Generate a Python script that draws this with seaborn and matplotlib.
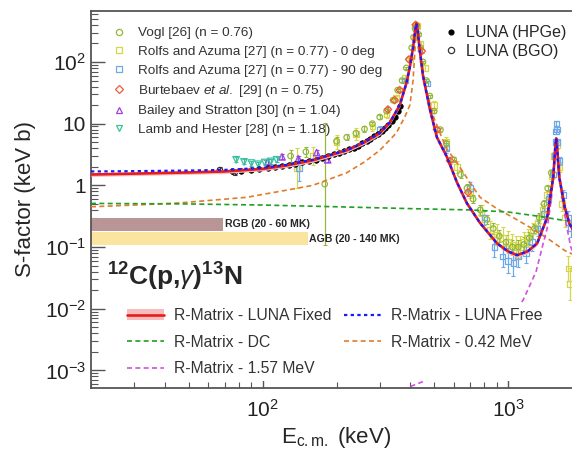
import numpy as np
import matplotlib
matplotlib.use("Agg")
import matplotlib.pyplot as plt
from matplotlib.lines import Line2D
from matplotlib.patches import Patch
from matplotlib.ticker import NullFormatter
import seaborn as sns

# R-matrix curves, E_cm (keV) vs S (keV b)
E_FIX = [20, 30, 50, 70, 100, 125, 160, 220, 260, 300, 330, 362, 385, 398, 410, 417, 423,
         428, 435, 450, 481, 513, 563, 620, 680, 769, 901, 1000, 1088, 1200, 1313, 1442,
         1527, 1555, 1570, 1585, 1615, 1700, 1774, 1900, 2000]
S_FIX = [1.50, 1.55, 1.62, 1.68, 1.85, 2.1, 2.55, 3.7, 5.0, 7.0, 10.5, 20, 45, 83, 170, 290, 420,
         330, 180, 60, 16.6, 6.0, 2.9, 1.1, 0.51, 0.245, 0.115, 0.085, 0.074, 0.085, 0.115, 0.30,
         1.36, 4.0, 5.8, 4.0, 1.36, 0.45, 0.245, 0.15, 0.12]
S_FREE = [1.68, 1.70, 1.74, 1.78, 1.92, 2.15, 2.6, 3.7, 5.0, 7.0, 10.5, 20, 45, 83, 170, 290, 420,
          330, 180, 60, 16.6, 6.0, 2.9, 1.1, 0.51, 0.245, 0.115, 0.085, 0.074, 0.085, 0.115, 0.30,
          1.36, 4.0, 5.8, 4.0, 1.36, 0.45, 0.245, 0.15, 0.12]

E_DC = [20, 50, 100, 200, 400, 700, 1000, 1300, 1600, 2000]
S_DC = [0.51, 0.50, 0.48, 0.45, 0.42, 0.40, 0.37, 0.32, 0.28, 0.24]

E_042 = [20, 30, 46, 86, 128, 160, 220, 260, 300, 350, 380, 398, 410, 417, 423, 430, 440, 460,
         500, 560, 620, 700, 769, 900, 1050, 1250, 1442, 1700, 2000]
S_042 = [0.45, 0.48, 0.52, 0.64, 0.85, 1.0, 1.6, 2.4, 3.7, 7.0, 13, 20, 50, 150, 380, 250, 110, 40,
         12, 4.0, 2.3, 1.1, 0.64, 0.42, 0.30, 0.20, 0.14, 0.088, 0.065]

E_157 = [350, 400, 467, 600, 800, 1000, 1150, 1300, 1390, 1442, 1500, 1540, 1570, 1600, 1650,
         1720, 1800, 2000]
S_157 = [4.0e-4, 5.5e-4, 7e-4, 1.2e-3, 2.8e-3, 7e-3, 0.0137, 0.04, 0.115, 0.2, 0.6, 2.0, 5.5,
         2.5, 0.8, 0.25, 0.1, 0.04]

# measurements: energy, S-factor, multiplicative error factor
E_VOGL = [130, 150, 179, 200, 220, 240, 260, 280, 300, 320, 340, 355, 370, 385, 395, 405, 412,
          418, 422, 426, 432, 440, 450, 465, 480, 500, 530, 560, 600, 640, 680, 720, 770, 820,
          870, 920, 980, 1040, 1100, 1160, 1220, 1280, 1340, 1400, 1450, 1500]
S_VOGL = [3.0, 3.5, 1.05, 5.2, 6.0, 7.0, 8.2, 10, 12.8, 16, 24, 35, 50, 80, 110, 170, 250,
          350, 400, 380, 280, 170, 100, 50, 28, 16, 8, 4.8, 2.6, 1.5, 0.9, 0.6, 0.4, 0.28,
          0.2, 0.15, 0.12, 0.1, 0.1, 0.11, 0.14, 0.2, 0.3, 0.5, 0.9, 1.6]
F_VOGL = [1.25, 1.2, 9.6, 1.15, 1.12, 1.1, 1.1, 1.08, 1.08, 1.08, 1.06, 1.06, 1.05, 1.05, 1.05,
          1.05, 1.05, 1.05, 1.05, 1.05, 1.05, 1.05, 1.05, 1.05, 1.06, 1.06, 1.08, 1.1, 1.1, 1.12,
          1.15, 1.15, 1.2, 1.2, 1.25, 1.25, 1.3, 1.3, 1.3, 1.3, 1.25, 1.2, 1.2, 1.15, 1.1, 1.1]

E_R0 = [138, 160, 200, 240, 280, 320, 350, 380, 400, 415, 425, 440, 460, 500, 560, 620, 700,
        780, 845, 900, 955, 1000, 1040, 1080, 1120, 1160, 1200, 1260, 1320, 1380, 1440, 1500,
        1540, 1580, 1620, 1660, 1700, 1760, 1790]
S_R0 = [1.9, 3.0, 5.0, 6.8, 9, 14, 26, 55, 110, 250, 380, 200, 80, 20, 5, 2, 0.8, 0.35, 0.19,
        0.16, 0.14, 0.12, 0.11, 0.1, 0.1, 0.12, 0.14, 0.18, 0.25, 0.4, 0.7, 1.4, 3.0, 4.5, 2.0,
        0.5, 0.3, 0.045, 0.025]
F_R0 = [2.1, 1.4, 1.3, 1.25, 1.2, 1.15, 1.1, 1.1, 1.1, 1.1, 1.1, 1.1, 1.1, 1.15, 1.2, 1.25,
        1.3, 1.35, 1.4, 1.5, 1.5, 1.5, 1.5, 1.5, 1.5, 1.45, 1.4, 1.35, 1.3, 1.25, 1.2, 1.2,
        1.15, 1.15, 1.2, 1.3, 1.4, 1.6, 1.8]

E_R90 = [141, 300, 380, 420, 470, 560, 700, 800, 880, 950, 1000, 1050, 1100, 1180, 1250, 1320,
         1400, 1460, 1520, 1545, 1558, 1565, 1572, 1580, 1592, 1620, 1680, 1750, 1800]
S_R90 = [1.9, 8, 50, 350, 45, 4, 0.9, 0.3, 0.1, 0.07, 0.06, 0.055, 0.07, 0.08, 0.12, 0.2,
         0.35, 0.6, 1.5, 3.0, 5.0, 7.5, 10, 8, 5, 2.5, 0.7, 0.3, 0.2]
F_R90 = [1.6, 1.15, 1.1, 1.1, 1.1, 1.2, 1.25, 1.3, 1.45, 1.5, 1.6, 1.6, 1.5, 1.45, 1.4, 1.3,
         1.25, 1.2, 1.15, 1.1, 1.1, 1.1, 1.1, 1.1, 1.1, 1.15, 1.2, 1.3, 1.35]

E_BURT = [324, 345, 362, 395, 420, 445, 513, 580, 687]
S_BURT = [17, 24, 35, 110, 400, 150, 8, 2.5, 0.77]
F_BURT = [1.08, 1.08, 1.08, 1.08, 1.08, 1.08, 1.1, 1.12, 1.15]

E_BAIL = [105, 120, 140, 166, 184]
S_BAIL = [2.4, 2.9, 2.7, 3.4, 2.6]
F_BAIL = [1.1, 1.1, 1.1, 1.1, 1.1]

E_LAMB = [78, 84, 90, 96, 102, 108, 114]
S_LAMB = [2.6, 2.4, 2.3, 2.2, 2.35, 2.45, 2.6]
F_LAMB = [1.1, 1.1, 1.1, 1.1, 1.1, 1.1, 1.1]

E_HPGE = [75, 82, 90, 97, 105, 112, 120, 128, 136, 145, 155, 165, 175, 185, 195, 205, 215,
          225, 235, 245, 255, 265, 275, 285, 295, 305, 315, 325, 335, 345, 355, 362]
S_HPGE = [1.70, 1.72, 1.78, 1.82, 1.9, 1.98, 2.05, 2.15, 2.25, 2.35, 2.48, 2.62, 2.8, 3.0, 3.2,
          3.4, 3.6, 3.85, 4.1, 4.4, 4.8, 5.2, 5.7, 6.2, 6.8, 7.5, 8.4, 9.5, 11, 13, 16, 19]

E_BGO = [67, 77]
S_BGO = [1.76, 1.62]
F_BGO = [1.12, 1.1]

# stellar Gamow windows
RGB_E = [20, 69]
RGB_S = [0.185, 0.30]
AGB_E = [20, 153]
AGB_S = [0.107, 0.175]

X_TICKS = [100, 1000]
X_TICK_LABELS = ["$10^{2}$", "$10^{3}$"]
Y_TICKS = [1e-3, 1e-2, 1e-1, 1, 10, 100]
Y_TICK_LABELS = ["$10^{-3}$", "$10^{-2}$", "$10^{-1}$", "1", "10", "$10^{2}$"]

sns.set_theme(style="ticks")
plt.rcParams["font.family"] = ["Liberation Sans", "DejaVu Sans"]
plt.rcParams["mathtext.fontset"] = "custom"
plt.rcParams["mathtext.rm"] = "Liberation Sans"
plt.rcParams["mathtext.it"] = "Liberation Sans:italic"
plt.rcParams["mathtext.bf"] = "Liberation Sans:bold"

C_VOGL = "#93b83c"
C_R0 = "#d6d64a"
C_R90 = "#6ea8e8"
C_BURT = "#ee5a3a"
C_BAIL = "#9a40e6"
C_LAMB = "#38c0a0"

fig = plt.figure(figsize=(5.72, 4.51), dpi=100)
ax = fig.add_axes([0.1591, 0.1397, 0.8584, 0.8359])
ax.set_xscale("log")
ax.set_yscale("log")


def draw_set(e, s, f, color, marker, size, filled=False):
    e = np.asarray(e, float)
    s = np.asarray(s, float)
    f = np.asarray(f, float)
    ax.errorbar(e, s, yerr=[s - s / f, s * f - s], fmt="none", ecolor=color,
                elinewidth=0.9, capsize=1.5, capthick=0.8, zorder=2)
    sns.scatterplot(x=e, y=s, ax=ax, marker=marker, s=size,
                    color=color if filled else "none", edgecolor=color,
                    linewidth=0.9, zorder=2.5)


# Gamow window bars
ax.fill_between(RGB_E, RGB_S[0], RGB_S[1], color="#b99595", lw=0, zorder=1)
ax.fill_between(AGB_E, AGB_S[0], AGB_S[1], color="#fbe3a0", lw=0, zorder=1)
ax.text(RGB_E[1] * 1.02, np.sqrt(RGB_S[0] * RGB_S[1]), "RGB (20 - 60 MK)",
        fontsize=7.6, fontweight="bold", va="center", ha="left", zorder=5)
ax.text(AGB_E[1] * 1.01, np.sqrt(AGB_S[0] * AGB_S[1]), "AGB (20 - 140 MK)",
        fontsize=7.6, fontweight="bold", va="center", ha="left", zorder=5)

draw_set(E_R0, S_R0, F_R0, C_R0, "s", 16)
draw_set(E_R90, S_R90, F_R90, C_R90, "s", 16)
draw_set(E_VOGL, S_VOGL, F_VOGL, C_VOGL, "o", 16)
draw_set(E_BURT, S_BURT, F_BURT, C_BURT, "D", 14)
draw_set(E_BAIL, S_BAIL, F_BAIL, C_BAIL, "^", 22)
draw_set(E_LAMB, S_LAMB, F_LAMB, C_LAMB, "v", 22)
draw_set(E_BGO, S_BGO, F_BGO, "#333333", "o", 16)
sns.scatterplot(x=E_HPGE, y=S_HPGE, ax=ax, marker="o", s=16, color="black",
                edgecolor="black", linewidth=0.5, zorder=2.6)

# curves
s_fix = np.asarray(S_FIX)
ax.fill_between(E_FIX, s_fix * 0.93, s_fix * 1.07, color="#f8bcbc", lw=0, zorder=3)
sns.lineplot(x=E_042, y=S_042, ax=ax, color="#e07b2a", lw=1.2, linestyle=(0, (3, 2)),
             estimator=None, sort=False, zorder=3)
sns.lineplot(x=E_DC, y=S_DC, ax=ax, color="#20a020", lw=1.2, linestyle=(0, (3, 2)),
             estimator=None, sort=False, zorder=3)
sns.lineplot(x=E_157, y=S_157, ax=ax, color="#d050e0", lw=1.2, linestyle=(0, (3, 2)),
             estimator=None, sort=False, zorder=3)
sns.lineplot(x=E_FIX, y=S_FIX, ax=ax, color="#e81c1c", lw=1.9,
             estimator=None, sort=False, zorder=3.5)
sns.lineplot(x=E_FIX, y=S_FREE, ax=ax, color="#1a1aff", lw=1.6, linestyle=(0, (1.5, 1.5)),
             estimator=None, sort=False, zorder=3.6)

ax.set_xlim(20, 2000)
ax.set_ylim(5.2e-4, 670)
ax.set_xticks(X_TICKS, X_TICK_LABELS)
ax.set_yticks(Y_TICKS, Y_TICK_LABELS)
ax.xaxis.set_minor_formatter(NullFormatter())
ax.yaxis.set_minor_formatter(NullFormatter())
ax.tick_params(which="both", direction="in", color="#555555", labelsize=15,
               labelcolor="#222222", top=False, right=False)
ax.tick_params(axis="y", which="major", length=10, width=1)
ax.tick_params(axis="y", which="minor", length=5, width=0.8)
ax.tick_params(axis="x", which="major", length=6, width=1, pad=8)
ax.tick_params(axis="x", which="minor", length=4, width=0.8)
for side in ["left", "bottom", "top"]:
    ax.spines[side].set_color("#555555")
    ax.spines[side].set_linewidth(1.3)
ax.spines["right"].set_visible(False)

ax.set_ylabel("S-factor (keV b)", fontsize=16, labelpad=6)
ax.set_xlabel(r"E$_{\rm c.m.}$ (keV)", fontsize=16, labelpad=3)

ax.text(0.033, 0.294, r"$^{\mathbf{12}}$C(p,$\gamma$)$^{\mathbf{13}}$N", transform=ax.transAxes,
        fontsize=19, fontweight="bold", ha="left", va="center", zorder=6)

# legends
def mk(marker, color, ms=4.5, filled=False):
    return Line2D([], [], ls="none", marker=marker, ms=ms, mew=0.9, mec=color,
                  mfc=color if filled else "none")


leg1 = ax.legend(
    [mk("o", C_VOGL), mk("s", C_R0), mk("s", C_R90), mk("D", C_BURT, 4),
     mk("^", C_BAIL, 5), mk("v", C_LAMB, 5)],
    ["Vogl [26] (n = 0.76)", "Rolfs and Azuma [27] (n = 0.77) - 0 deg",
     "Rolfs and Azuma [27] (n = 0.77) - 90 deg", r"Burtebaev $\it{et\ al.}$ [29] (n = 0.75)",
     "Bailey and Stratton [30] (n = 1.04)", "Lamb and Hester [28] (n = 1.18)"],
    loc="upper left", bbox_to_anchor=(0.043, 0.958), frameon=False, fontsize=9.7,
    handlelength=1.0, handletextpad=0.9, labelspacing=0.46, borderpad=0, borderaxespad=0)
for t in leg1.get_texts():
    t.set_color("#333333")
ax.add_artist(leg1)

leg2 = ax.legend(
    [mk("o", "black", 3.5, True), mk("o", "#333333", 4.5)],
    ["LUNA (HPGe)", "LUNA (BGO)"],
    loc="upper left", bbox_to_anchor=(0.721, 0.962), frameon=False, fontsize=11.5,
    handlelength=0.8, handletextpad=0.5, labelspacing=0.22, borderpad=0, borderaxespad=0)
ax.add_artist(leg2)

h_fix = (Patch(facecolor="#f8bcbc", edgecolor="none"), Line2D([], [], color="#e81c1c", lw=1.9))
h_dc = Line2D([], [], color="#20a020", lw=1.2, ls=(0, (3, 2)))
h_157 = Line2D([], [], color="#d050e0", lw=1.2, ls=(0, (3, 2)))
h_free = Line2D([], [], color="#1a1aff", lw=1.6, ls=(0, (1.5, 1.5)))
h_042 = Line2D([], [], color="#e07b2a", lw=1.2, ls=(0, (3, 2)))
leg3 = ax.legend(
    [h_fix, h_dc, h_157, h_free, h_042],
    ["R-Matrix - LUNA Fixed", "R-Matrix - DC", "R-Matrix - 1.57 MeV",
     "R-Matrix - LUNA Free", "R-Matrix - 0.42 MeV"],
    ncol=2, loc="upper left", bbox_to_anchor=(0.063, 0.224), frameon=True, fontsize=11.3,
    handlelength=2.4, handletextpad=0.6, labelspacing=0.74, columnspacing=0.8,
    borderpad=0.3, borderaxespad=0, fancybox=False)
leg3.get_frame().set_facecolor("white")
leg3.get_frame().set_edgecolor("none")
leg3.get_frame().set_alpha(1)
leg3.set_zorder(7)
for t in leg3.get_texts():
    t.set_color("#333333")

fig.savefig("out.png", dpi=100)
